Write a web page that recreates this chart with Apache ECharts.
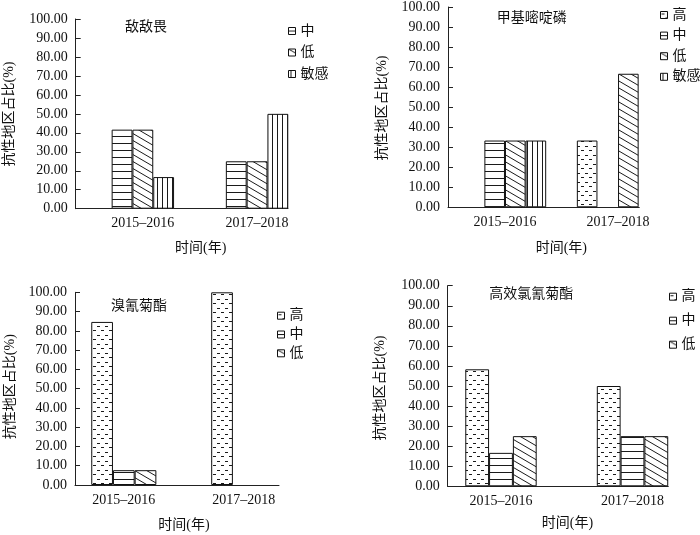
<!DOCTYPE html>
<html>
<head>
<meta charset="utf-8">
<script src="https://cdn.jsdelivr.net/npm/echarts@6/dist/echarts.min.js"></script>
<style>
html,body{margin:0;padding:0;background:#fff;}
#c{width:700px;height:535px;}
</style>
</head>
<body>
<div id="c"></div>
<script>
// ---- data ----
const categories = ['2015–2016', '2017–2018'];
const yTicks = [0, 10, 20, 30, 40, 50, 60, 70, 80, 90, 100];
const yAxisName = '抗性地区占比(%)';
const xAxisName = '时间(年)';

// 敌敌畏
const ddw_zhong = [41.67, 25.00];
const ddw_di    = [41.67, 25.00];
const ddw_min   = [16.67, 50.00];
// 甲基嘧啶磷
const jjmdl_gao   = ['-', 33.33];
const jjmdl_zhong = [33.33, '-'];
const jjmdl_di    = [33.33, 66.67];
const jjmdl_min   = [33.33, '-'];
// 溴氰菊酯
const xqjz_gao   = [84.62, 100.00];
const xqjz_zhong = [7.69, '-'];
const xqjz_di    = [7.69, '-'];
// 高效氯氰菊酯
const gxlqjz_gao   = [58.33, 50.00];
const gxlqjz_zhong = [16.67, 25.00];
const gxlqjz_di    = [25.00, 25.00];

// ---- patterns ----
const INK = '#1a1a1a';
function tile(w, h, draw) {
  const c = document.createElement('canvas');
  c.width = w; c.height = h;
  const g = c.getContext('2d');
  g.fillStyle = '#fff'; g.fillRect(0, 0, w, h);
  g.fillStyle = INK; g.strokeStyle = INK; g.lineWidth = 1;
  draw(g, w, h);
  return { image: c, repeat: 'repeat' };
}
const patterns = {
  '高': tile(8, 9, (g) => { g.fillRect(1, 2, 3, 1); g.fillRect(5, 6, 3, 1); }),
  '中': tile(4, 7, (g) => { g.fillRect(0, 3, 4, 1); }),
  '低': tile(12, 7, (g, w, h) => {
    for (const dx of [-w, 0, w]) for (const dy of [-h, 0, h]) {
      g.beginPath(); g.moveTo(dx, dy); g.lineTo(dx + w, dy + h); g.stroke();
    }
  }),
  '敏感': tile(5, 8, (g) => { g.fillRect(2, 0, 1, 8); })
};

// ---- panels (layout) ----
const panels = [
  { title: '敌敌畏', series: [['中', ddw_zhong], ['低', ddw_di], ['敏感', ddw_min]],
    grid: { left: 75.7, top: 19, width: 212.3, height: 189.7 }, xMin: 0.412, xMax: 2.271, barW: 20.8,
    legend: { left: 288, top: 24, gap: 7.5 }, titleAt: [125, 27], xNameAt: [200.7, 248], yNameAt: [9, 114] },
  { title: '甲基嘧啶磷', series: [['高', jjmdl_gao], ['中', jjmdl_zhong], ['低', jjmdl_di], ['敏感', jjmdl_min]],
    grid: { left: 448, top: 6.7, width: 191.3, height: 200.6 }, xMin: 0.496, xMax: 2.188, barW: 20.6,
    legend: { left: 660, top: 8, gap: 6.6 }, titleAt: [496.7, 18.3], xNameAt: [561.3, 248], yNameAt: [382, 108] },
  { title: '溴氰菊酯', series: [['高', xqjz_gao], ['中', xqjz_zhong], ['低', xqjz_di]],
    grid: { left: 75, top: 292.3, width: 204, height: 192.7 }, xMin: 0.593, xMax: 2.294, barW: 21.7,
    legend: { left: 277, top: 308.7, gap: 4.8 }, titleAt: [111, 306.7], xNameAt: [184, 525], yNameAt: [10, 386.7] },
  { title: '高效氯氰菊酯', series: [['高', gxlqjz_gao], ['中', gxlqjz_zhong], ['低', gxlqjz_di]],
    grid: { left: 447.7, top: 285.7, width: 220.6, height: 200.6 }, xMin: 0.595, xMax: 2.272, barW: 23.8,
    legend: { left: 669, top: 289.7, gap: 10 }, titleAt: [489.3, 294.3], xNameAt: [567.5, 523.3], yNameAt: [380.8, 388] }
];

const FONT = '"Liberation Serif", "Noto Sans CJK SC", serif';
const option = {
  animation: false,
  backgroundColor: '#fff',
  grid: [], xAxis: [], yAxis: [], series: [], legend: [], graphic: []
};

panels.forEach((p, i) => {
  option.grid.push(Object.assign({ containLabel: false }, p.grid));
  option.xAxis.push({
    type: 'value', gridIndex: i, min: p.xMin, max: p.xMax,
    axisLine: { show: true, onZero: false, lineStyle: { color: '#222', width: 1 } },
    axisTick: { show: false },
    splitLine: { show: false },
    axisLabel: {
      customValues: categories.map((c, k) => k + 1),
      formatter: (v) => categories[Math.round(v) - 1] || '',
      color: '#111', fontFamily: FONT, fontSize: 14, margin: 8
    }
  });
  option.yAxis.push({
    type: 'value', gridIndex: i, min: yTicks[0], max: yTicks[yTicks.length - 1], interval: yTicks[1] - yTicks[0],
    axisLine: { show: true, onZero: false, lineStyle: { color: '#222', width: 1 } },
    axisTick: { show: true, inside: true, length: 5, lineStyle: { color: '#222' } },
    splitLine: { show: false },
    axisLabel: { formatter: (v) => v.toFixed(2), color: '#111', fontFamily: FONT, fontSize: 14, margin: 8 }
  });
  p.series.forEach(([name, vals]) => {
    option.series.push({
      type: 'bar', name: name, xAxisIndex: i, yAxisIndex: i,
      barWidth: p.barW, barGap: '0%',
      data: categories.map((c, k) => [k + 1, vals[k]]),
      itemStyle: { color: patterns[name], borderColor: '#111', borderWidth: 1 },
      emphasis: { disabled: true }, silent: true
    });
  });
  option.legend.push({
    orient: 'vertical', left: p.legend.left, top: p.legend.top, itemGap: p.legend.gap,
    padding: 0,
    itemWidth: 7, itemHeight: 7, icon: 'rect', selectedMode: false,
    data: p.series.map(s => s[0]),
    itemStyle: { borderColor: '#111', borderWidth: 1 },
    textStyle: { fontFamily: FONT, fontSize: 14, color: '#111', lineHeight: 14 }
  });
  option.graphic.push({
    type: 'text', x: p.titleAt[0], y: p.titleAt[1],
    style: { text: p.title, font: '14px ' + FONT, fill: '#111', textAlign: 'left', textVerticalAlign: 'middle' }
  });
  option.graphic.push({
    type: 'text', x: p.xNameAt[0], y: p.xNameAt[1],
    style: { text: xAxisName, font: '14px ' + FONT, fill: '#111', textAlign: 'center', textVerticalAlign: 'middle' }
  });
  option.graphic.push({
    type: 'text', x: p.yNameAt[0], y: p.yNameAt[1], rotation: Math.PI / 2,
    style: { text: yAxisName, font: '14px ' + FONT, fill: '#111', textAlign: 'center', textVerticalAlign: 'middle' }
  });
});

const chart = echarts.init(document.getElementById('c'));
chart.setOption(option);
</script>
</body>
</html>
